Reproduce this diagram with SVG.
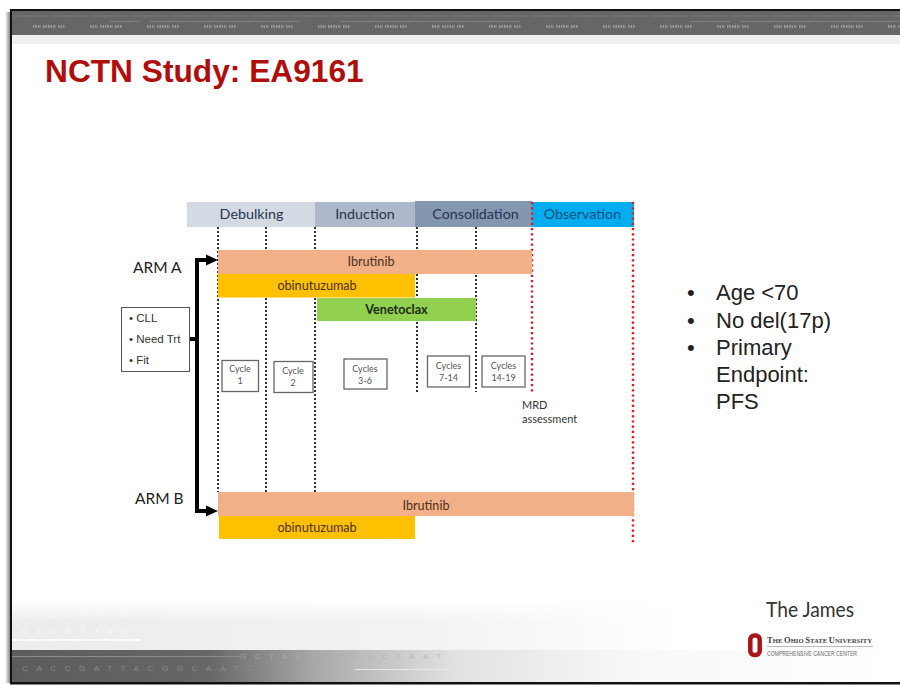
<svg xmlns="http://www.w3.org/2000/svg" width="900" height="685" viewBox="0 0 900 685">
<style>
.l{font-family:Lato,"Open Sans",sans-serif;fill:#333}
.s{font-family:"Liberation Sans",Arial,sans-serif}
.h{font-size:14.3px;text-anchor:middle;fill:#26364e}
.b{font-size:12.6px;text-anchor:middle;fill:#4a3020}
.c{font-size:9px;text-anchor:middle;fill:#555}
.cy{fill:#fff;stroke:#666;stroke-width:1.3}
.d{stroke:#333;stroke-width:2;stroke-dasharray:2 2;fill:none}
.r{stroke:#d0202a;stroke-width:2.4;stroke-dasharray:2.2 3;fill:none}
.arm{font-size:15.5px;fill:#222}
.bul{font-size:22px;fill:#222}
.dna{font-family:"Liberation Sans",Arial,sans-serif;font-size:8px;letter-spacing:8.6px}
</style>
<defs>
<linearGradient id="gb" x1="0" x2="1" y1="0" y2="0"><stop offset="0" stop-color="#5c5c5c"/><stop offset="0.22" stop-color="#666"/><stop offset="0.34" stop-color="#a8a8a8"/><stop offset="0.5" stop-color="#e2e2e2"/><stop offset="0.7" stop-color="#f8f8f8"/><stop offset="1" stop-color="#fff"/></linearGradient>
<linearGradient id="gl" x1="0" x2="1" y1="0" y2="0"><stop offset="0" stop-color="#ececec"/><stop offset="0.45" stop-color="#f2f2f2"/><stop offset="0.75" stop-color="#fff"/></linearGradient>
<linearGradient id="gs" x1="0" x2="1" y1="0" y2="0"><stop offset="0" stop-color="#fff"/><stop offset="1" stop-color="#8a8a8a"/></linearGradient>
<linearGradient id="fade" x1="0" x2="0" y1="0" y2="1"><stop offset="0" stop-color="#fff"/><stop offset="1" stop-color="#fff" stop-opacity="0"/></linearGradient>
<pattern id="ticks" width="57" height="8" patternUnits="userSpaceOnUse" x="33" y="23"><path d="M0 3.500h8M10 3.500h13M25 3.500h7" stroke="#999" stroke-width="3" stroke-dasharray="1.5 1"/></pattern>
<pattern id="tiny" width="40" height="4" patternUnits="userSpaceOnUse" x="12" y="14"><path d="M0 2h34" stroke="#7a7a7a" stroke-width="1.500" stroke-dasharray="2 1"/></pattern>
</defs>
<rect width="900" height="685" fill="#fff"/>
<g id="frame">
<rect x="5" y="12" width="5" height="671" fill="url(#gs)"/>
<rect x="10" y="34" width="890" height="10" fill="#efefef"/>
<rect x="10" y="10" width="890" height="25" fill="#666"/>
<rect x="12" y="14" width="888" height="4" fill="url(#tiny)"/>
<path d="M110 21.500H140M150 21.500H300M340 21.500H520M690 21.500H730M740 21.500H900" stroke="#808080" stroke-width="1"/>
<rect x="33" y="23" width="867" height="8" fill="url(#ticks)"/>
<rect x="10" y="9" width="890" height="2" fill="#111"/>
<rect x="10" y="9" width="2" height="675" fill="#111"/>
<rect x="12" y="600" width="888" height="50" fill="url(#gl)"/>
<rect x="12" y="600" width="888" height="22" fill="url(#fade)"/>
<path d="M12 640H140" stroke="#fff" stroke-width="1.500"/>
<rect x="12" y="650" width="888" height="32" fill="url(#gb)"/>
<path d="M12 656.500H240" stroke="#8c8c8c" stroke-width="1"/>
<path d="M355 669.500H450" stroke="#e8e8e8" stroke-width="1"/>
<rect x="10" y="682" width="890" height="2.500" fill="#111"/>
<text class="dna" x="22" y="617" fill="#fafafa">CCGCAATC</text>
<text class="dna" x="22" y="634" fill="#fafafa">GCCGTTAG</text>
<text class="dna" x="22" y="671" fill="#8c8c8c">CACCGATTACGGCAATC</text>
<text class="dna" x="240" y="659" fill="#b0b0b0" opacity="0.7">GCTACGTAGGCTAAT</text>
</g>
<text id="title" class="s" x="45" y="82" font-size="31.700" font-weight="700" fill="#b00d0d">NCTN Study: EA9161</text>
<g id="phases">
<g id="debulking"><rect x="187" y="202" width="128" height="25" fill="#d3dae4"/><text class="l h" x="251.500" y="219">Debulking</text></g>
<g id="induction"><rect x="315" y="202" width="100" height="25" fill="#adb9ca"/><text class="l h" x="365" y="219">Induction</text></g>
<g id="consolidation"><rect x="415" y="201" width="117" height="26" fill="#8497b0"/><text class="l h" x="475.500" y="219">Consolidation</text></g>
<g id="observation"><rect x="532" y="202" width="102" height="25" fill="#00aeef"/><text class="l h" x="582.500" y="219" style="fill:#14507e">Observation</text></g>
</g>
<g id="connectors">
<path class="d" d="M218 227V492M266 227V250M266 298V492M315 227V250M315 298V492M417 227V250M417 274V298M417 322V392M476 227V392"/>
<path class="r" d="M532 202V394M633 202V545"/>
<path d="M190 339H197" stroke="#000" stroke-width="4" fill="none"/>
<path d="M197 513V260H208" stroke="#000" stroke-width="4" fill="none"/>
<path d="M197 511H208" stroke="#000" stroke-width="4" fill="none"/>
<path d="M206 254.500L218 260L206 265.500Z" fill="#000"/>
<path d="M206 505.500L218 511L206 516.500Z" fill="#000"/>
</g>
<g id="arm-a-label"><text class="l arm" x="133" y="273">ARM A</text></g>
<g id="arm-b-label"><text class="l arm" x="135" y="504">ARM B</text></g>
<g id="ibrutinib-a"><rect x="218" y="250" width="314" height="24" fill="#f1b088"/><text class="l b" x="371" y="266">Ibrutinib</text></g>
<g id="obinutuzumab-a"><rect x="218" y="274" width="197" height="23.500" fill="#ffc000"/><text class="l b" x="317" y="290">obinutuzumab</text></g>
<g id="venetoclax"><rect x="317" y="298" width="159" height="23" fill="#92d050"/><text class="l b" style="font-weight:700;fill:#1c2a10" x="396.500" y="314">Venetoclax</text></g>
<g id="ibrutinib-b"><rect x="218" y="492" width="416" height="24" fill="#f1b088"/><text class="l b" x="426" y="510">Ibrutinib</text></g>
<g id="obinutuzumab-b"><rect x="219" y="516" width="196" height="23" fill="#ffc000"/><text class="l b" x="317" y="532">obinutuzumab</text></g>
<g id="criteria"><rect x="121.500" y="307.500" width="68" height="64" fill="#fff" stroke="#555" stroke-width="1"/>
<text class="s" font-size="11.500" fill="#333"><tspan x="129" y="322">• CLL</tspan><tspan x="129" y="343">• Need Trt</tspan><tspan x="129" y="364">• Fit</tspan></text></g>
<g id="cycle-1"><rect class="cy" x="222" y="360.500" width="36.500" height="31"/><text class="l c"><tspan x="240" y="372">Cycle</tspan><tspan x="240" y="384">1</tspan></text></g>
<g id="cycle-2"><rect class="cy" x="274" y="361.500" width="39" height="31"/><text class="l c"><tspan x="293" y="374">Cycle</tspan><tspan x="293" y="386">2</tspan></text></g>
<g id="cycles-3-6"><rect class="cy" x="344" y="359" width="43" height="30"/><text class="l c"><tspan x="365" y="372">Cycles</tspan><tspan x="365" y="384">3-6</tspan></text></g>
<g id="cycles-7-14"><rect class="cy" x="427.500" y="356" width="42" height="31"/><text class="l c"><tspan x="448.500" y="369">Cycles</tspan><tspan x="448.500" y="381">7-14</tspan></text></g>
<g id="cycles-14-19"><rect class="cy" x="482" y="356" width="43" height="31"/><text class="l c"><tspan x="503.500" y="369">Cycles</tspan><tspan x="503.500" y="381">14-19</tspan></text></g>
<g id="mrd"><text class="l" font-size="11" fill="#444"><tspan x="522" y="409">MRD</tspan><tspan x="522" y="423">assessment</tspan></text></g>
<g id="bullets"><text class="s bul"><tspan x="687" y="300">•</tspan><tspan x="716" y="300">Age &lt;70</tspan><tspan x="687" y="327.500">•</tspan><tspan x="716" y="327.500">No del(17p)</tspan><tspan x="687" y="354.500">•</tspan><tspan x="716" y="354.500">Primary</tspan><tspan x="716" y="382">Endpoint:</tspan><tspan x="716" y="409">PFS</tspan></text></g>
<g id="logo">
<text class="l" x="766" y="616.500" font-size="22" fill="#333" textLength="88" lengthAdjust="spacingAndGlyphs">The James</text>
<rect x="750.300" y="635.500" width="9.400" height="19.500" rx="4" fill="none" stroke="#aa1515" stroke-width="4.500"/>
<text x="767" y="643" font-family="Liberation Serif,serif" font-weight="700" fill="#444" textLength="105" lengthAdjust="spacingAndGlyphs" font-size="7"><tspan font-size="9">T</tspan>HE <tspan font-size="9">O</tspan>HIO <tspan font-size="9">S</tspan>TATE <tspan font-size="9">U</tspan>NIVERSITY</text>
<path d="M767 646.500H873" stroke="#aaa" stroke-width="0.800"/>
<text x="767" y="655.500" class="s" font-size="6.500" fill="#666" textLength="90" lengthAdjust="spacingAndGlyphs">COMPREHENSIVE CANCER CENTER</text>
</g>
</svg>
